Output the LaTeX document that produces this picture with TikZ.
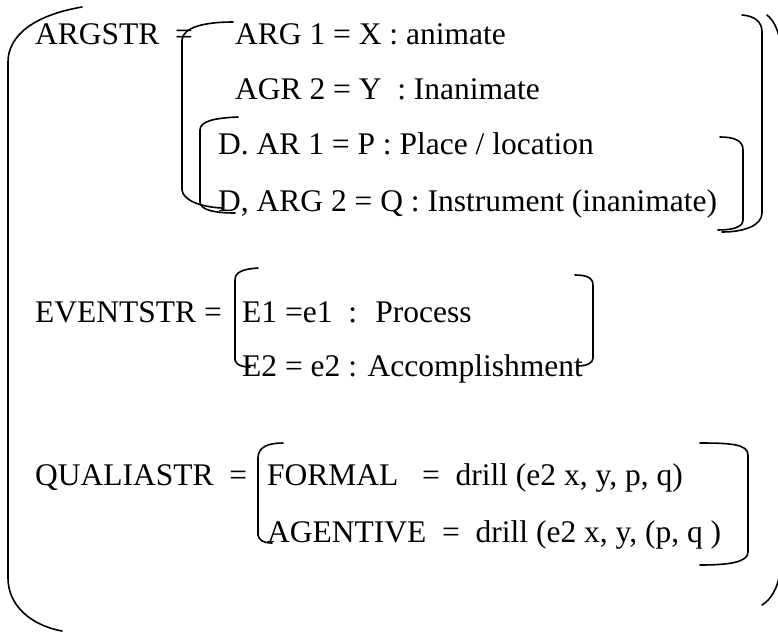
\documentclass[tikz,border=0pt]{standalone}
\usepackage{fontspec}
\setmainfont{Liberation Serif}
\usepackage{tikz}

\begin{document}
\begin{tikzpicture}[
  x=1pt, y=-1pt,
  entry/.style={anchor=base west, inner sep=0pt, font=\fontsize{31.5}{37}\selectfont},
  bracket/.style={draw=black, line width=1.6pt, line cap=round}
]
\useasboundingbox (0,0) rectangle (778,632);
\clip (0,0) rectangle (778,632);

% argument structure
\node[entry] (argstr) at (35,44) {ARGSTR \ =};
\node[entry] (arg1) at (235,44) {ARG 1 = X : animate};
\node[entry] (arg2) at (235,99) {AGR 2 = Y \ : Inanimate};
\node[entry] (dar1) at (218,154) {D. AR 1 = P : Place / location};
\node[entry] (darg2) at (218,211) {D, ARG 2 = Q : Instrument (inanimate)};

% event structure
\node[entry] (eventstr) at (35,322) {EVENTSTR =};
\node[entry] (e1) at (242,322) {E1 =e1 \ : \ Process};
\node[entry] (e2) at (242,376) {E2 = e2 : Accomplishment};

% qualia structure
\node[entry] (qualiastr) at (35,485) {QUALIASTR \ =};
\node[entry] (formal) at (267,485) {FORMAL \ \ = \ drill (e2 x, y, p, q)};
\node[entry] (agentive) at (267,542) {AGENTIVE \ = \ drill (e2 x, y, (p, q )};

% outer brackets
\draw[bracket] (82,7) .. controls (35,15) and (8,35) .. (8,62) -- (8,578) .. controls (8,605) and (30,625) .. (62,631);
\draw[bracket] (767,15) .. controls (773,20) and (777,27) .. (780,40) -- (780,570) .. controls (778,590) and (770,600) .. (762,605);

% ARGSTR brackets
\draw[bracket] (233,22) .. controls (205,22) and (183,27) .. (182,40) -- (182,190) .. controls (183,200) and (200,207) .. (222,208);
\draw[bracket] (742,15) .. controls (755,16) and (762,22) .. (762,32) -- (762,213) .. controls (762,225) and (745,232) .. (722,232);
\draw[bracket] (238,117) .. controls (215,118) and (200,121) .. (200,130) -- (200,202) .. controls (200,210) and (215,213) .. (235,213);
\draw[bracket] (720,137) .. controls (735,137) and (743,141) .. (743,150) -- (743,220) .. controls (743,227) and (733,230) .. (718,230);

% EVENTSTR brackets
\draw[bracket] (258,268) .. controls (243,269) and (235,272) .. (235,280) -- (235,360) .. controls (236,365) and (242,367) .. (250,367);
\draw[bracket] (575,275) .. controls (585,275) and (593,277) .. (593,285) -- (593,358) .. controls (593,363) and (587,366) .. (577,366);

% QUALIASTR brackets
\draw[bracket] (283,443) .. controls (268,443) and (258,447) .. (258,458) -- (258,535) .. controls (259,540) and (263,543) .. (272,543);
\draw[bracket] (700,443) .. controls (730,443) and (748,444) .. (748,455) -- (748,552) .. controls (748,562) and (730,565) .. (700,565);
\end{tikzpicture}
\end{document}
